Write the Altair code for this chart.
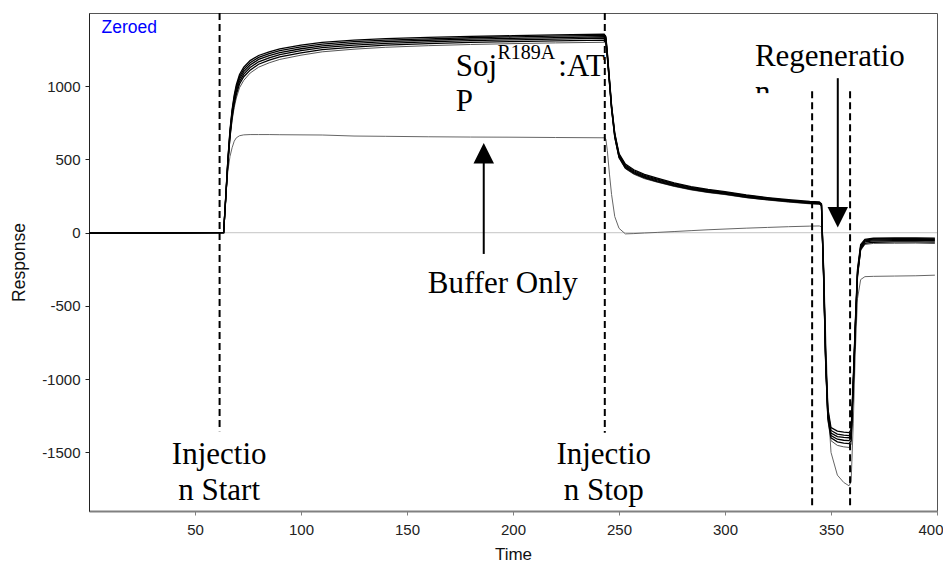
import altair as alt
import pandas as pd

# ---------------- data ----------------
TIME = [0, 24, 63, 63.5, 64.5, 65.5, 66.5, 67.5, 68.5, 69.5, 71, 73, 76, 80, 85, 90,
        100, 110, 125, 140, 160, 180, 200, 220, 243, 243.8, 244.5, 245.5, 246.5, 248,
        250, 253, 257, 262, 268, 276, 284, 292, 300, 310, 320, 330, 340, 344.5, 345.5,
        346.5, 347.5, 348.5, 350, 353, 356, 358.5, 359.5, 360.5, 361.5, 362.5, 364, 366,
        370, 380, 390, 399]

F1 = [-5, -3, 0, 0, 250, 500, 700, 840, 940, 1010, 1080, 1130, 1175, 1210, 1235, 1255,
      1280, 1300, 1315, 1325, 1333, 1340, 1345, 1350, 1355,
      1340, 1230, 1050, 870, 680, 540, 468, 430, 398, 372,
      340, 315, 295, 280, 258, 240, 225, 213,
      210, 198, -250, -850, -1200, -1330, -1355, -1362,
      -1365, -1345, -1000, -600, -250, -80, -45,
      -38, -36, -35, -37]
F2 = [-4, -2, 0, 0, 245, 495, 690, 830, 925, 995, 1065, 1115, 1160, 1197, 1222, 1243,
      1268, 1288, 1304, 1315, 1324, 1331, 1337, 1342, 1347,
      1332, 1222, 1043, 864, 674, 534, 461, 423, 392, 366,
      335, 310, 291, 276, 254, 236, 221, 209,
      206, 194, -265, -865, -1220, -1350, -1375, -1382,
      -1385, -1365, -1020, -620, -265, -90, -50,
      -43, -41, -40, -42]
F3 = [-3, -2, 0, 0, 240, 487, 680, 818, 912, 980, 1050, 1100, 1145, 1183, 1209, 1230,
      1256, 1276, 1292, 1304, 1314, 1321, 1327, 1332, 1338,
      1324, 1214, 1036, 857, 667, 527, 454, 416, 385, 360,
      330, 305, 287, 272, 250, 233, 218, 206,
      203, 191, -280, -880, -1235, -1368, -1392, -1398,
      -1400, -1380, -1030, -630, -275, -97, -56,
      -49, -47, -46, -48]
F4 = [-3, -1, 0, 0, 235, 478, 668, 802, 896, 963, 1033, 1083, 1128, 1167, 1194, 1216,
      1243, 1264, 1281, 1293, 1303, 1311, 1317, 1322, 1328,
      1315, 1205, 1028, 850, 660, 521, 448, 410, 379, 354,
      325, 300, 282, 268, 246, 229, 215, 203,
      200, 188, -290, -890, -1250, -1385, -1410, -1417,
      -1420, -1400, -1045, -640, -285, -105, -63,
      -56, -54, -53, -55]
F5 = [-2, -1, 0, 0, 230, 470, 655, 786, 878, 945, 1015, 1065, 1110, 1150, 1178, 1200,
      1228, 1250, 1267, 1280, 1291, 1299, 1305, 1310, 1315,
      1303, 1196, 1020, 843, 653, 515, 442, 404, 374, 349,
      320, 296, 278, 264, 242, 226, 212, 200,
      197, 185, -300, -900, -1265, -1400, -1428, -1436,
      -1440, -1420, -1060, -650, -295, -113, -72,
      -65, -63, -62, -64]
F6 = [-2, -1, 0, 0, 225, 460, 640, 766, 856, 920, 990, 1040, 1090, 1130, 1160, 1183,
      1212, 1235, 1253, 1266, 1277, 1285, 1291, 1296, 1300,
      1289, 1186, 1012, 836, 646, 509, 437, 399, 369, 345,
      316, 292, 274, 260, 239, 223, 209, 197,
      194, 182, -310, -910, -1280, -1420, -1452, -1462,
      -1466, -1445, -1075, -660, -305, -120, -80,
      -73, -72, -71, -74]
BUFFER = [-3, -2, 0, 0, 250, 420, 520, 580, 625, 648, 662, 668, 670, 670, 670, 669,
          668, 667, 660, 658, 655, 653, 652, 650, 648,
          640, 560, 400, 260, 110, 30, -8, -6, -2, 2,
          8, 14, 20, 25, 31, 36, 41, 45,
          46, 40, -200, -700, -1150, -1500, -1655, -1705,
          -1728, -1700, -1300, -800, -450, -320, -300,
          -298, -296, -294, -290]

SERIES_NAMES = ["F1", "F2", "F3", "F4", "F5", "F6", "Buffer"]
SERIES_VALUES = [F1, F2, F3, F4, F5, F6, BUFFER]
SERIES_COLORS = ["#000000", "#000000", "#000000", "#000000", "#000000", "#555555", "#666666"]

X_TICKS = [50, 100, 150, 200, 250, 300, 350, 400]
Y_TICKS = [-1500, -1000, -500, 0, 500, 1000]

# annotation content
DASH_T = [61.6, 243.3, 341.1, 359.0]
DASH_TOP = [1500, 1500, 965, 965]
DASH_BOTTOM = [-1355, -1365, -1876, -1876]

CENTER_TEXT = ["Injectio", "n Start", "Injectio", "n Stop", "Buffer Only"]
CENTER_T = [61.4, 61.4, 242.8, 242.8, 195.2]
CENTER_R = [-1580, -1823, -1580, -1823, -409]

LEFT_TEXT = ["Soj", ":AT", "P", "Regeneratio", "n"]
LEFT_T = [173.0, 221.4, 173.0, 314.1, 314.1]
LEFT_R = [1069, 1069, 830, 1137, 894]

# ---------------- build tables ----------------
rows = []
for name, vals in zip(SERIES_NAMES, SERIES_VALUES):
    for t, v in zip(TIME, vals):
        rows.append({"series": name, "time": t, "response": v})
curves = pd.DataFrame(rows)
gray_curves = curves[curves.series.isin(["F6", "Buffer"])]
black_curves = curves[~curves.series.isin(["F6", "Buffer"])]

x_scale = alt.Scale(domain=[0, 400], nice=False, zero=False)
y_scale = alt.Scale(domain=[-1900, 1500], nice=False, zero=False)

x_axis = alt.Axis(title="Time", values=X_TICKS, grid=False, tickSize=4, labelPadding=7,
                  domainColor="#808080", domainWidth=2, tickColor="#808080",
                  labelFont="Liberation Sans", titleFont="Liberation Sans",
                  labelFontSize=15, titleFontSize=17, titleFontWeight="normal",
                  labelColor="#222222", titleColor="#111111", titlePadding=9,
                  labelExpr="'' + datum.value",
                  labelFlush=True, labelFlushOffset=6, labelOverlap=False)
y_axis = alt.Axis(title="Response", values=Y_TICKS, grid=False, tickSize=4, labelPadding=5,
                  domainColor="#222222", domainWidth=1, tickColor="#222222",
                  labelFont="Liberation Sans", titleFont="Liberation Sans",
                  labelFontSize=15, titleFontSize=17.5, titleFontWeight="normal",
                  labelColor="#222222", titleColor="#111111", titlePadding=13,
                  labelExpr="'' + datum.value",
                  labelFlush=False, labelOverlap=False)


def X(field="time"):
    return alt.X(f"{field}:Q", scale=x_scale, axis=x_axis)


def Y(field="response"):
    return alt.Y(f"{field}:Q", scale=y_scale, axis=y_axis)


color_scale = alt.Scale(domain=SERIES_NAMES, range=SERIES_COLORS)

zero_rule = alt.Chart(pd.DataFrame({"time": [0], "time_end": [400], "response": [0]})).mark_rule(
    color="#c4c4c4", strokeWidth=1
).encode(x=X(), x2=alt.X2("time_end"), y=Y())

gray_lines = alt.Chart(gray_curves).mark_line(strokeWidth=1).encode(
    x=X(), y=Y(), color=alt.Color("series:N", scale=color_scale, legend=None),
    detail="series:N")
black_lines = alt.Chart(black_curves).mark_line(strokeWidth=1.3).encode(
    x=X(), y=Y(), color=alt.Color("series:N", scale=color_scale, legend=None),
    detail="series:N")

dashed = alt.Chart(pd.DataFrame({"time": DASH_T, "response": DASH_TOP,
                                 "response_end": DASH_BOTTOM})).mark_rule(
    color="black", strokeWidth=2, strokeDash=[7, 4]
).encode(x=X(), y=Y(), y2=alt.Y2("response_end"))

shafts = alt.Chart(pd.DataFrame({"time": [186.2, 353.2], "response": [-145, 1055],
                                 "response_end": [500, 150]})).mark_rule(
    color="black", strokeWidth=2
).encode(x=X(), y=Y(), y2=alt.Y2("response_end"))

heads = alt.Chart(pd.DataFrame({"time": [186.2, 353.2], "response": [542, 106],
                                "dir": ["up", "down"]})).mark_point(
    filled=True, size=420, color="black", opacity=1, strokeWidth=0
).encode(x=X(), y=Y(),
         shape=alt.Shape("dir:N", scale=alt.Scale(domain=["up", "down"],
                                                  range=["M0,-1L-1,1L1,1Z", "M0,1L-1,-1L1,-1Z"]),
                         legend=None))

center_text = alt.Chart(pd.DataFrame({"label": CENTER_TEXT, "time": CENTER_T,
                                      "response": CENTER_R})).mark_text(
    font="Liberation Serif", fontSize=31, align="center", baseline="alphabetic", color="black"
).encode(x=X(), y=Y(), text="label:N")

left_text = alt.Chart(pd.DataFrame({"label": LEFT_TEXT, "time": LEFT_T,
                                    "response": LEFT_R})).mark_text(
    font="Liberation Serif", fontSize=31, align="left", baseline="alphabetic", color="black"
).encode(x=X(), y=Y(), text="label:N")

sup_text = alt.Chart(pd.DataFrame({"label": ["R189A"], "time": [192.7],
                                   "response": [1183]})).mark_text(
    font="Liberation Serif", fontSize=20, align="left", baseline="alphabetic", color="black"
).encode(x=X(), y=Y(), text="label:N")

# hides the lower part of the wrapped "n", as in the original figure
mask = alt.Chart(pd.DataFrame({"time": [312.5], "time_end": [327], "response": [953],
                               "response_end": [870]})).mark_rect(color="white").encode(
    x=X(), x2=alt.X2("time_end"), y=Y(), y2=alt.Y2("response_end"))

zeroed = alt.Chart(pd.DataFrame({"label": ["Zeroed"], "time": [5.9],
                                 "response": [1364]})).mark_text(
    font="Liberation Sans", fontSize=17.5, align="left", baseline="alphabetic", color="#0000ff"
).encode(x=X(), y=Y(), text="label:N")

chart = alt.layer(
    zero_rule, gray_lines, black_lines, dashed, shafts, heads,
    center_text, left_text, sup_text, mask, zeroed
).properties(
    width=848, height=498,
    padding={"left": 81, "top": 5, "right": 6, "bottom": 52},
    autosize=alt.AutoSizeParams(type="none"),
).configure_view(stroke="#555555", strokeWidth=1)

chart.save("out.html", embed_options={"renderer": "svg", "actions": False})
